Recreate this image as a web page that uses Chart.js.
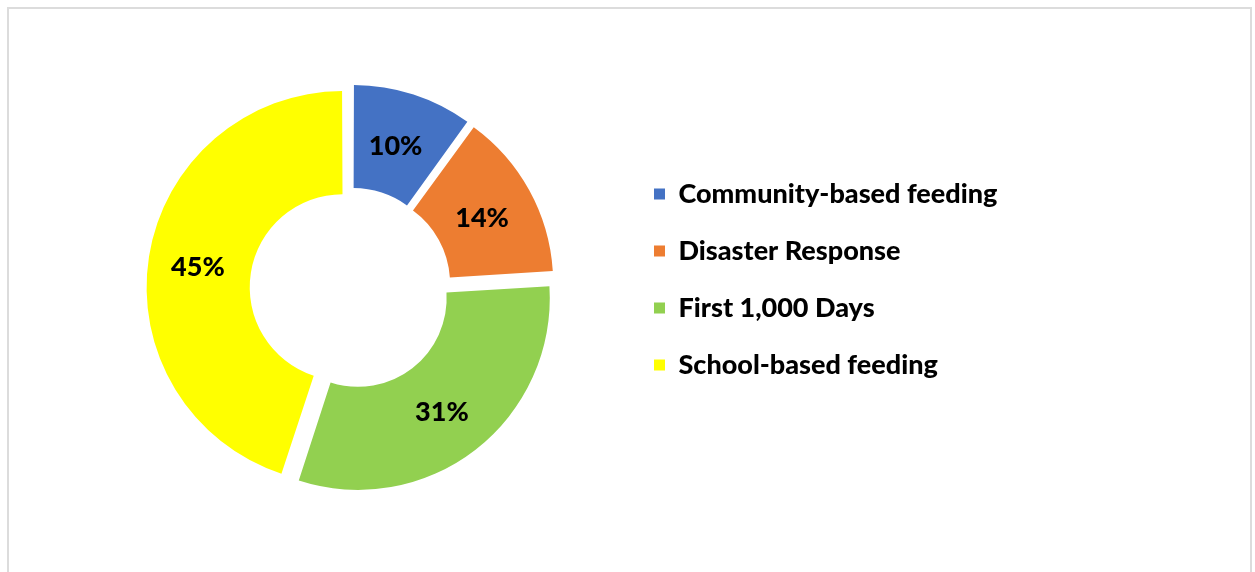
<!DOCTYPE html>
<html>
<head>
<meta charset="utf-8">
<script src="https://cdn.jsdelivr.net/npm/chart.js@4.4.1/dist/chart.umd.min.js"></script>
<style>
  html, body { margin: 0; padding: 0; background: #ffffff; }
  #wrap { position: relative; width: 1255px; height: 572px; overflow: hidden; }
  #frame { position: absolute; left: 7px; top: 7px; width: 1245px; height: 600px; border: 2px solid #dcdcdc; box-sizing: border-box; }
  canvas { position: absolute; left: 0; top: 0; }
</style>
</head>
<body>
<div id="wrap">
  <div id="frame"></div>
  <canvas id="c" width="1255" height="572"></canvas>
</div>
<script>
const categories = ['Community-based feeding', 'Disaster Response', 'First 1,000 Days', 'School-based feeding'];
const shares = [10, 14, 31, 45];
const sliceColors = ['#4472C4', '#ED7D31', '#92D050', '#FFFF00'];

const FONT = "'Lato', 'Open Sans', sans-serif";
const FSIZE = 27;
const FWEIGHT = '900';
const SHIFT = 13; // explosion distance in px

// legend / layout geometry
const LEG_PAD = 57 - FSIZE;
const LEG_LEFT = 654 - LEG_PAD;
const CENTER_X = 350.5;
const BOX = 11;

const mctx = document.createElement('canvas').getContext('2d');
mctx.font = FWEIGHT + ' ' + FSIZE + 'px ' + FONT;
const maxTextW = Math.max(...categories.map(t => mctx.measureText(t).width));
const legendW = LEG_PAD + BOX + FSIZE / 2 + maxTextW + 10;
const padRight = 1255 - LEG_LEFT - legendW;
const padLeft = 2 * CENTER_X - LEG_LEFT;
const padTop = 194 - LEG_PAD - FSIZE / 2;
const padBottom = padTop - 5;

function offsetFor(ctx) {
  const data = ctx.dataset.data;
  const total = data.reduce((a, b) => a + b, 0);
  const circ = (data[ctx.dataIndex] / total) * Math.PI * 2;
  const fix = 1 - Math.sin(Math.min(Math.PI, circ));
  return 4 * SHIFT / (1 + fix);
}

const labelPlugin = {
  id: 'sliceLabels',
  afterDatasetsDraw(chart) {
    const meta = chart.getDatasetMeta(0);
    const data = chart.data.datasets[0].data;
    const total = data.reduce((a, b) => a + b, 0);
    const ctx = chart.ctx;
    ctx.save();
    ctx.font = FWEIGHT + ' ' + FSIZE + 'px ' + FONT;
    ctx.fillStyle = '#000000';
    ctx.textAlign = 'center';
    ctx.textBaseline = 'middle';
    meta.data.forEach((arc, i) => {
      const p = arc.getProps(['x', 'y', 'startAngle', 'endAngle', 'innerRadius', 'outerRadius'], true);
      const half = (p.startAngle + p.endAngle) / 2;
      const r = (p.innerRadius + p.outerRadius) / 2 + SHIFT;
      const pct = Math.round(data[i] / total * 100) + '%';
      ctx.fillText(pct, p.x + Math.cos(half) * r - 2, p.y + Math.sin(half) * r + 3);
    });
    ctx.restore();
  }
};

new Chart(document.getElementById('c'), {
  type: 'doughnut',
  data: {
    labels: categories,
    datasets: [{
      data: shares,
      backgroundColor: sliceColors,
      borderWidth: 0,
      offset: offsetFor,
      hoverOffset: 0,
      clip: false
    }]
  },
  plugins: [labelPlugin],
  options: {
    responsive: false,
    animation: false,
    radius: 191,
    cutout: '46%',
    layout: { padding: { left: padLeft, right: padRight, top: padTop, bottom: padBottom } },
    plugins: {
      tooltip: { enabled: false },
      legend: {
        position: 'right',
        align: 'start',
        labels: {
          boxWidth: BOX,
          boxHeight: BOX,
          padding: LEG_PAD,
          color: '#000000',
          font: { family: FONT, size: FSIZE, weight: FWEIGHT }
        }
      }
    }
  }
});
</script>
</body>
</html>
